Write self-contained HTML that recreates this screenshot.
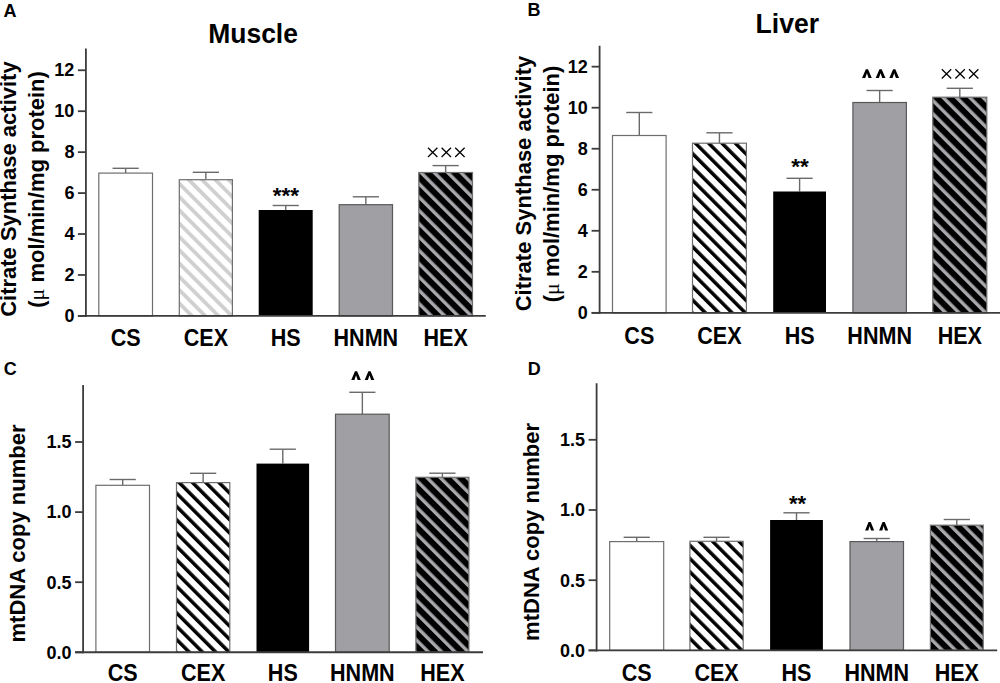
<!DOCTYPE html><html><head><meta charset="utf-8"><style>html,body{margin:0;padding:0;background:#fff;overflow:hidden}svg{display:block}text{font-family:"Liberation Sans",sans-serif;font-weight:bold;fill:#000}</style></head><body>
<svg width="1000" height="683" viewBox="0 0 1000 683">
<rect width="1000" height="683" fill="#fff"/>
<defs>
<pattern id="p01" patternUnits="userSpaceOnUse" width="9.4045" height="9.4045" patternTransform="translate(179.30,315.90) rotate(-45) translate(-2.395,0)"><rect x="-1" y="-1" width="11.4045" height="11.4045" fill="#fff"/><rect x="0" y="-1" width="3.8" height="11.4045" fill="#d0d0d0"/></pattern>
<pattern id="p04" patternUnits="userSpaceOnUse" width="9.4045" height="9.4045" patternTransform="translate(418.80,315.90) rotate(-45) translate(-2.195,0)"><rect x="-1" y="-1" width="11.4045" height="11.4045" fill="#000"/><rect x="0" y="-1" width="3.4" height="11.4045" fill="#a9a8ad"/></pattern>
<pattern id="p11" patternUnits="userSpaceOnUse" width="9.4045" height="9.4045" patternTransform="translate(692.50,312.90) rotate(-45) translate(-1.962,0)"><rect x="-1" y="-1" width="11.4045" height="11.4045" fill="#fff"/><rect x="0" y="-1" width="3.5" height="11.4045" fill="#000"/></pattern>
<pattern id="p14" patternUnits="userSpaceOnUse" width="9.4045" height="9.4045" patternTransform="translate(932.80,312.90) rotate(-45) translate(-1.912,0)"><rect x="-1" y="-1" width="11.4045" height="11.4045" fill="#000"/><rect x="0" y="-1" width="3.4" height="11.4045" fill="#a9a8ad"/></pattern>
<pattern id="p21" patternUnits="userSpaceOnUse" width="9.4045" height="9.4045" patternTransform="translate(176.50,652.30) rotate(-45) translate(-2.068,0)"><rect x="-1" y="-1" width="11.4045" height="11.4045" fill="#fff"/><rect x="0" y="-1" width="3.5" height="11.4045" fill="#000"/></pattern>
<pattern id="p24" patternUnits="userSpaceOnUse" width="9.4045" height="9.4045" patternTransform="translate(415.90,652.30) rotate(-45) translate(-2.018,0)"><rect x="-1" y="-1" width="11.4045" height="11.4045" fill="#000"/><rect x="0" y="-1" width="3.4" height="11.4045" fill="#a9a8ad"/></pattern>
<pattern id="p31" patternUnits="userSpaceOnUse" width="9.4045" height="9.4045" patternTransform="translate(689.90,650.40) rotate(-45) translate(-2.669,0)"><rect x="-1" y="-1" width="11.4045" height="11.4045" fill="#fff"/><rect x="0" y="-1" width="3.5" height="11.4045" fill="#000"/></pattern>
<pattern id="p34" patternUnits="userSpaceOnUse" width="9.4045" height="9.4045" patternTransform="translate(930.40,650.40) rotate(-45) translate(-2.619,0)"><rect x="-1" y="-1" width="11.4045" height="11.4045" fill="#000"/><rect x="0" y="-1" width="3.4" height="11.4045" fill="#a9a8ad"/></pattern>
</defs>
<line x1="125.65" y1="173.10" x2="125.65" y2="168.30" stroke="#6a6a6a" stroke-width="1.4"/>
<line x1="112.55" y1="168.30" x2="138.75" y2="168.30" stroke="#6a6a6a" stroke-width="1.4"/>
<rect x="98.80" y="173.10" width="53.70" height="142.80" fill="#fff" stroke="#6e6e6e" stroke-width="1.2"/>
<text transform="translate(125.65,346.0) scale(0.98,1.05)" x="0" y="0" font-size="22" text-anchor="middle">CS</text>
<line x1="205.85" y1="179.70" x2="205.85" y2="172.30" stroke="#6a6a6a" stroke-width="1.4"/>
<line x1="192.75" y1="172.30" x2="218.95" y2="172.30" stroke="#6a6a6a" stroke-width="1.4"/>
<rect x="179.30" y="179.70" width="53.10" height="136.20" fill="url(#p01)" stroke="#6e6e6e" stroke-width="1.2"/>
<text transform="translate(205.85,346.0) scale(0.98,1.05)" x="0" y="0" font-size="22" text-anchor="middle">CEX</text>
<line x1="285.70" y1="210.00" x2="285.70" y2="205.50" stroke="#6a6a6a" stroke-width="1.4"/>
<line x1="272.60" y1="205.50" x2="298.80" y2="205.50" stroke="#6a6a6a" stroke-width="1.4"/>
<rect x="258.70" y="210.00" width="54.00" height="105.90" fill="#000"/>
<text transform="translate(285.70,346.0) scale(0.98,1.05)" x="0" y="0" font-size="22" text-anchor="middle">HS</text>
<line x1="365.85" y1="204.70" x2="365.85" y2="196.80" stroke="#6a6a6a" stroke-width="1.4"/>
<line x1="352.75" y1="196.80" x2="378.95" y2="196.80" stroke="#6a6a6a" stroke-width="1.4"/>
<rect x="339.20" y="204.70" width="53.30" height="111.20" fill="#a09fa4" stroke="#585858" stroke-width="1.2"/>
<text transform="translate(365.85,346.0) scale(0.98,1.05)" x="0" y="0" font-size="22" text-anchor="middle">HNMN</text>
<line x1="445.65" y1="172.50" x2="445.65" y2="165.60" stroke="#6a6a6a" stroke-width="1.4"/>
<line x1="432.55" y1="165.60" x2="458.75" y2="165.60" stroke="#6a6a6a" stroke-width="1.4"/>
<rect x="418.80" y="172.50" width="53.70" height="143.40" fill="url(#p04)" stroke="#6e6e6e" stroke-width="1.2"/>
<text transform="translate(445.65,346.0) scale(0.98,1.05)" x="0" y="0" font-size="22" text-anchor="middle">HEX</text>
<line x1="85.90" y1="48.60" x2="85.90" y2="316.90" stroke="#3c3c3c" stroke-width="1.8"/>
<line x1="77.90" y1="315.90" x2="485.80" y2="315.90" stroke="#3c3c3c" stroke-width="1.9000000000000001"/>
<line x1="77.90" y1="315.90" x2="85.90" y2="315.90" stroke="#3c3c3c" stroke-width="1.8"/>
<text x="74.40" y="321.50" font-size="18" text-anchor="end">0</text>
<line x1="77.90" y1="274.96" x2="85.90" y2="274.96" stroke="#3c3c3c" stroke-width="1.8"/>
<text x="74.40" y="280.56" font-size="18" text-anchor="end">2</text>
<line x1="77.90" y1="234.02" x2="85.90" y2="234.02" stroke="#3c3c3c" stroke-width="1.8"/>
<text x="74.40" y="239.62" font-size="18" text-anchor="end">4</text>
<line x1="77.90" y1="193.08" x2="85.90" y2="193.08" stroke="#3c3c3c" stroke-width="1.8"/>
<text x="74.40" y="198.68" font-size="18" text-anchor="end">6</text>
<line x1="77.90" y1="152.14" x2="85.90" y2="152.14" stroke="#3c3c3c" stroke-width="1.8"/>
<text x="74.40" y="157.74" font-size="18" text-anchor="end">8</text>
<line x1="77.90" y1="111.20" x2="85.90" y2="111.20" stroke="#3c3c3c" stroke-width="1.8"/>
<text x="74.40" y="116.80" font-size="18" text-anchor="end">10</text>
<line x1="77.90" y1="70.26" x2="85.90" y2="70.26" stroke="#3c3c3c" stroke-width="1.8"/>
<text x="74.40" y="75.86" font-size="18" text-anchor="end">12</text>
<line x1="639.30" y1="135.50" x2="639.30" y2="112.50" stroke="#6a6a6a" stroke-width="1.4"/>
<line x1="626.20" y1="112.50" x2="652.40" y2="112.50" stroke="#6a6a6a" stroke-width="1.4"/>
<rect x="612.50" y="135.50" width="53.60" height="177.40" fill="#fff" stroke="#6e6e6e" stroke-width="1.2"/>
<text transform="translate(639.30,344.2) scale(0.98,1.05)" x="0" y="0" font-size="22" text-anchor="middle">CS</text>
<line x1="719.45" y1="143.20" x2="719.45" y2="132.80" stroke="#6a6a6a" stroke-width="1.4"/>
<line x1="706.35" y1="132.80" x2="732.55" y2="132.80" stroke="#6a6a6a" stroke-width="1.4"/>
<rect x="692.50" y="143.20" width="53.90" height="169.70" fill="url(#p11)" stroke="#6e6e6e" stroke-width="1.2"/>
<text transform="translate(719.45,344.2) scale(0.98,1.05)" x="0" y="0" font-size="22" text-anchor="middle">CEX</text>
<line x1="799.60" y1="191.50" x2="799.60" y2="178.30" stroke="#6a6a6a" stroke-width="1.4"/>
<line x1="786.50" y1="178.30" x2="812.70" y2="178.30" stroke="#6a6a6a" stroke-width="1.4"/>
<rect x="773.20" y="191.50" width="52.80" height="121.40" fill="#000"/>
<text transform="translate(799.60,344.2) scale(0.98,1.05)" x="0" y="0" font-size="22" text-anchor="middle">HS</text>
<line x1="879.65" y1="102.50" x2="879.65" y2="90.50" stroke="#6a6a6a" stroke-width="1.4"/>
<line x1="866.55" y1="90.50" x2="892.75" y2="90.50" stroke="#6a6a6a" stroke-width="1.4"/>
<rect x="852.90" y="102.50" width="53.50" height="210.40" fill="#a09fa4" stroke="#585858" stroke-width="1.2"/>
<text transform="translate(879.65,344.2) scale(0.98,1.05)" x="0" y="0" font-size="22" text-anchor="middle">HNMN</text>
<line x1="959.80" y1="97.20" x2="959.80" y2="88.30" stroke="#6a6a6a" stroke-width="1.4"/>
<line x1="946.70" y1="88.30" x2="972.90" y2="88.30" stroke="#6a6a6a" stroke-width="1.4"/>
<rect x="932.80" y="97.20" width="54.00" height="215.70" fill="url(#p14)" stroke="#6e6e6e" stroke-width="1.2"/>
<text transform="translate(959.80,344.2) scale(0.98,1.05)" x="0" y="0" font-size="22" text-anchor="middle">HEX</text>
<line x1="599.60" y1="45.70" x2="599.60" y2="313.90" stroke="#3c3c3c" stroke-width="1.8"/>
<line x1="591.60" y1="312.90" x2="1000.00" y2="312.90" stroke="#3c3c3c" stroke-width="1.9000000000000001"/>
<line x1="591.60" y1="312.85" x2="599.60" y2="312.85" stroke="#3c3c3c" stroke-width="1.8"/>
<text x="587.80" y="319.15" font-size="18" text-anchor="end">0</text>
<line x1="591.60" y1="271.82" x2="599.60" y2="271.82" stroke="#3c3c3c" stroke-width="1.8"/>
<text x="587.80" y="278.12" font-size="18" text-anchor="end">2</text>
<line x1="591.60" y1="230.79" x2="599.60" y2="230.79" stroke="#3c3c3c" stroke-width="1.8"/>
<text x="587.80" y="237.09" font-size="18" text-anchor="end">4</text>
<line x1="591.60" y1="189.76" x2="599.60" y2="189.76" stroke="#3c3c3c" stroke-width="1.8"/>
<text x="587.80" y="196.06" font-size="18" text-anchor="end">6</text>
<line x1="591.60" y1="148.73" x2="599.60" y2="148.73" stroke="#3c3c3c" stroke-width="1.8"/>
<text x="587.80" y="155.03" font-size="18" text-anchor="end">8</text>
<line x1="591.60" y1="107.70" x2="599.60" y2="107.70" stroke="#3c3c3c" stroke-width="1.8"/>
<text x="587.80" y="114.00" font-size="18" text-anchor="end">10</text>
<line x1="591.60" y1="66.67" x2="599.60" y2="66.67" stroke="#3c3c3c" stroke-width="1.8"/>
<text x="587.80" y="72.97" font-size="18" text-anchor="end">12</text>
<line x1="122.70" y1="485.30" x2="122.70" y2="479.50" stroke="#6a6a6a" stroke-width="1.4"/>
<line x1="109.60" y1="479.50" x2="135.80" y2="479.50" stroke="#6a6a6a" stroke-width="1.4"/>
<rect x="95.90" y="485.30" width="53.60" height="167.00" fill="#fff" stroke="#6e6e6e" stroke-width="1.2"/>
<text transform="translate(122.70,681.2) scale(0.98,1.05)" x="0" y="0" font-size="22" text-anchor="middle">CS</text>
<line x1="203.15" y1="482.60" x2="203.15" y2="473.30" stroke="#6a6a6a" stroke-width="1.4"/>
<line x1="190.05" y1="473.30" x2="216.25" y2="473.30" stroke="#6a6a6a" stroke-width="1.4"/>
<rect x="176.50" y="482.60" width="53.30" height="169.70" fill="url(#p21)" stroke="#6e6e6e" stroke-width="1.2"/>
<text transform="translate(203.15,681.2) scale(0.98,1.05)" x="0" y="0" font-size="22" text-anchor="middle">CEX</text>
<line x1="282.80" y1="463.60" x2="282.80" y2="449.20" stroke="#6a6a6a" stroke-width="1.4"/>
<line x1="269.70" y1="449.20" x2="295.90" y2="449.20" stroke="#6a6a6a" stroke-width="1.4"/>
<rect x="256.50" y="463.60" width="52.60" height="188.70" fill="#000"/>
<text transform="translate(282.80,681.2) scale(0.98,1.05)" x="0" y="0" font-size="22" text-anchor="middle">HS</text>
<line x1="362.35" y1="414.20" x2="362.35" y2="392.30" stroke="#6a6a6a" stroke-width="1.4"/>
<line x1="349.25" y1="392.30" x2="375.45" y2="392.30" stroke="#6a6a6a" stroke-width="1.4"/>
<rect x="335.50" y="414.20" width="53.70" height="238.10" fill="#a09fa4" stroke="#585858" stroke-width="1.2"/>
<text transform="translate(362.35,681.2) scale(0.98,1.05)" x="0" y="0" font-size="22" text-anchor="middle">HNMN</text>
<line x1="442.40" y1="477.30" x2="442.40" y2="473.20" stroke="#6a6a6a" stroke-width="1.4"/>
<line x1="429.30" y1="473.20" x2="455.50" y2="473.20" stroke="#6a6a6a" stroke-width="1.4"/>
<rect x="415.90" y="477.30" width="53.00" height="175.00" fill="url(#p24)" stroke="#6e6e6e" stroke-width="1.2"/>
<text transform="translate(442.40,681.2) scale(0.98,1.05)" x="0" y="0" font-size="22" text-anchor="middle">HEX</text>
<line x1="83.10" y1="385.10" x2="83.10" y2="653.30" stroke="#3c3c3c" stroke-width="1.8"/>
<line x1="75.10" y1="652.30" x2="483.00" y2="652.30" stroke="#3c3c3c" stroke-width="1.9000000000000001"/>
<line x1="75.10" y1="652.30" x2="83.10" y2="652.30" stroke="#3c3c3c" stroke-width="1.8"/>
<text x="71.50" y="658.60" font-size="18" text-anchor="end">0.0</text>
<line x1="75.10" y1="582.20" x2="83.10" y2="582.20" stroke="#3c3c3c" stroke-width="1.8"/>
<text x="71.50" y="588.50" font-size="18" text-anchor="end">0.5</text>
<line x1="75.10" y1="512.10" x2="83.10" y2="512.10" stroke="#3c3c3c" stroke-width="1.8"/>
<text x="71.50" y="518.40" font-size="18" text-anchor="end">1.0</text>
<line x1="75.10" y1="442.00" x2="83.10" y2="442.00" stroke="#3c3c3c" stroke-width="1.8"/>
<text x="71.50" y="448.30" font-size="18" text-anchor="end">1.5</text>
<line x1="636.70" y1="541.60" x2="636.70" y2="537.30" stroke="#6a6a6a" stroke-width="1.4"/>
<line x1="623.60" y1="537.30" x2="649.80" y2="537.30" stroke="#6a6a6a" stroke-width="1.4"/>
<rect x="609.70" y="541.60" width="54.00" height="108.80" fill="#fff" stroke="#6e6e6e" stroke-width="1.2"/>
<text transform="translate(636.70,680.8) scale(0.98,1.05)" x="0" y="0" font-size="22" text-anchor="middle">CS</text>
<line x1="716.55" y1="541.30" x2="716.55" y2="537.30" stroke="#6a6a6a" stroke-width="1.4"/>
<line x1="703.45" y1="537.30" x2="729.65" y2="537.30" stroke="#6a6a6a" stroke-width="1.4"/>
<rect x="689.90" y="541.30" width="53.30" height="109.10" fill="url(#p31)" stroke="#6e6e6e" stroke-width="1.2"/>
<text transform="translate(716.55,680.8) scale(0.98,1.05)" x="0" y="0" font-size="22" text-anchor="middle">CEX</text>
<line x1="796.50" y1="520.00" x2="796.50" y2="512.80" stroke="#6a6a6a" stroke-width="1.4"/>
<line x1="783.40" y1="512.80" x2="809.60" y2="512.80" stroke="#6a6a6a" stroke-width="1.4"/>
<rect x="770.10" y="520.00" width="52.80" height="130.40" fill="#000"/>
<text transform="translate(796.50,680.8) scale(0.98,1.05)" x="0" y="0" font-size="22" text-anchor="middle">HS</text>
<line x1="876.75" y1="541.60" x2="876.75" y2="538.50" stroke="#6a6a6a" stroke-width="1.4"/>
<line x1="863.65" y1="538.50" x2="889.85" y2="538.50" stroke="#6a6a6a" stroke-width="1.4"/>
<rect x="850.00" y="541.60" width="53.50" height="108.80" fill="#a09fa4" stroke="#585858" stroke-width="1.2"/>
<text transform="translate(876.75,680.8) scale(0.98,1.05)" x="0" y="0" font-size="22" text-anchor="middle">HNMN</text>
<line x1="956.80" y1="525.20" x2="956.80" y2="519.50" stroke="#6a6a6a" stroke-width="1.4"/>
<line x1="943.70" y1="519.50" x2="969.90" y2="519.50" stroke="#6a6a6a" stroke-width="1.4"/>
<rect x="930.40" y="525.20" width="52.80" height="125.20" fill="url(#p34)" stroke="#6e6e6e" stroke-width="1.2"/>
<text transform="translate(956.80,680.8) scale(0.98,1.05)" x="0" y="0" font-size="22" text-anchor="middle">HEX</text>
<line x1="596.60" y1="383.30" x2="596.60" y2="651.40" stroke="#3c3c3c" stroke-width="1.8"/>
<line x1="588.60" y1="650.40" x2="997.20" y2="650.40" stroke="#3c3c3c" stroke-width="1.9000000000000001"/>
<line x1="588.60" y1="650.40" x2="596.60" y2="650.40" stroke="#3c3c3c" stroke-width="1.8"/>
<text x="585.00" y="656.70" font-size="18" text-anchor="end">0.0</text>
<line x1="588.60" y1="580.20" x2="596.60" y2="580.20" stroke="#3c3c3c" stroke-width="1.8"/>
<text x="585.00" y="586.50" font-size="18" text-anchor="end">0.5</text>
<line x1="588.60" y1="510.00" x2="596.60" y2="510.00" stroke="#3c3c3c" stroke-width="1.8"/>
<text x="585.00" y="516.30" font-size="18" text-anchor="end">1.0</text>
<line x1="588.60" y1="439.80" x2="596.60" y2="439.80" stroke="#3c3c3c" stroke-width="1.8"/>
<text x="585.00" y="446.10" font-size="18" text-anchor="end">1.5</text>
<text x="3.5" y="17.0" font-size="18">A</text>
<text x="527.5" y="16.4" font-size="18">B</text>
<text x="3.7" y="375.0" font-size="18">C</text>
<text x="527.8" y="374.6" font-size="18">D</text>
<text transform="translate(253.1,43) scale(0.98,1)" x="0" y="0" font-size="27" text-anchor="middle">Muscle</text>
<text transform="translate(787.3,33.0) scale(0.985,1)" x="0" y="0" font-size="27" text-anchor="middle">Liver</text>
<text transform="translate(15.9,189.1) rotate(-90)" x="0" y="0" font-size="22" text-anchor="middle">Citrate Synthase activity</text>
<text transform="translate(44.0,189.45) rotate(-90)" x="0" y="0" font-size="22" text-anchor="middle">(<tspan font-family="Liberation Serif, serif" font-weight="normal">μ</tspan> mol/min/mg protein)</text>
<text transform="translate(531.2,183.5) rotate(-90)" x="0" y="0" font-size="22" text-anchor="middle">Citrate Synthase activity</text>
<text transform="translate(559.0,184.0) rotate(-90)" x="0" y="0" font-size="22" text-anchor="middle">(<tspan font-family="Liberation Serif, serif" font-weight="normal">μ</tspan> mol/min/mg protein)</text>
<text transform="translate(25.3,533.5) rotate(-90)" x="0" y="0" font-size="22" text-anchor="middle">mtDNA copy number</text>
<text transform="translate(539.3,531.9) rotate(-90)" x="0" y="0" font-size="22" text-anchor="middle">mtDNA copy number</text>
<text x="285.90" y="203.10" font-size="22.5" text-anchor="middle">***</text>
<text x="800.10" y="174.20" font-size="22.5" text-anchor="middle">**</text>
<text x="797.50" y="510.90" font-size="22" text-anchor="middle">**</text>
<path d="M862.05,78.10 L865.82,69.25 L868.02,69.25 L871.80,78.10 L868.60,78.10 L866.92,73.25 L865.25,78.10 Z" fill="#000"/>
<path d="M875.70,78.10 L879.47,69.25 L881.67,69.25 L885.45,78.10 L882.25,78.10 L880.57,73.25 L878.90,78.10 Z" fill="#000"/>
<path d="M889.35,78.10 L893.12,69.25 L895.32,69.25 L899.10,78.10 L895.90,78.10 L894.22,73.25 L892.55,78.10 Z" fill="#000"/>
<path d="M351.25,380.00 L354.95,371.25 L357.15,371.25 L360.85,380.00 L357.65,380.00 L356.05,375.25 L354.45,380.00 Z" fill="#000"/>
<path d="M364.70,380.00 L368.40,371.25 L370.60,371.25 L374.30,380.00 L371.10,380.00 L369.50,375.25 L367.90,380.00 Z" fill="#000"/>
<path d="M865.10,530.40 L868.55,521.90 L870.75,521.90 L874.20,530.40 L871.00,530.40 L869.65,525.90 L868.30,530.40 Z" fill="#000"/>
<path d="M879.10,530.40 L882.55,521.90 L884.75,521.90 L888.20,530.40 L885.00,530.40 L883.65,525.90 L882.30,530.40 Z" fill="#000"/>
<path d="M428.00,147.70 L437.40,157.00 M437.40,147.70 L428.00,157.00" stroke="#000" stroke-width="1.25" fill="none"/>
<path d="M441.60,147.70 L451.00,157.00 M451.00,147.70 L441.60,157.00" stroke="#000" stroke-width="1.25" fill="none"/>
<path d="M455.20,147.70 L464.60,157.00 M464.60,147.70 L455.20,157.00" stroke="#000" stroke-width="1.25" fill="none"/>
<path d="M941.80,69.20 L951.20,78.50 M951.20,69.20 L941.80,78.50" stroke="#000" stroke-width="1.25" fill="none"/>
<path d="M955.40,69.20 L964.80,78.50 M964.80,69.20 L955.40,78.50" stroke="#000" stroke-width="1.25" fill="none"/>
<path d="M969.00,69.20 L978.40,78.50 M978.40,69.20 L969.00,78.50" stroke="#000" stroke-width="1.25" fill="none"/>
</svg></body></html>
